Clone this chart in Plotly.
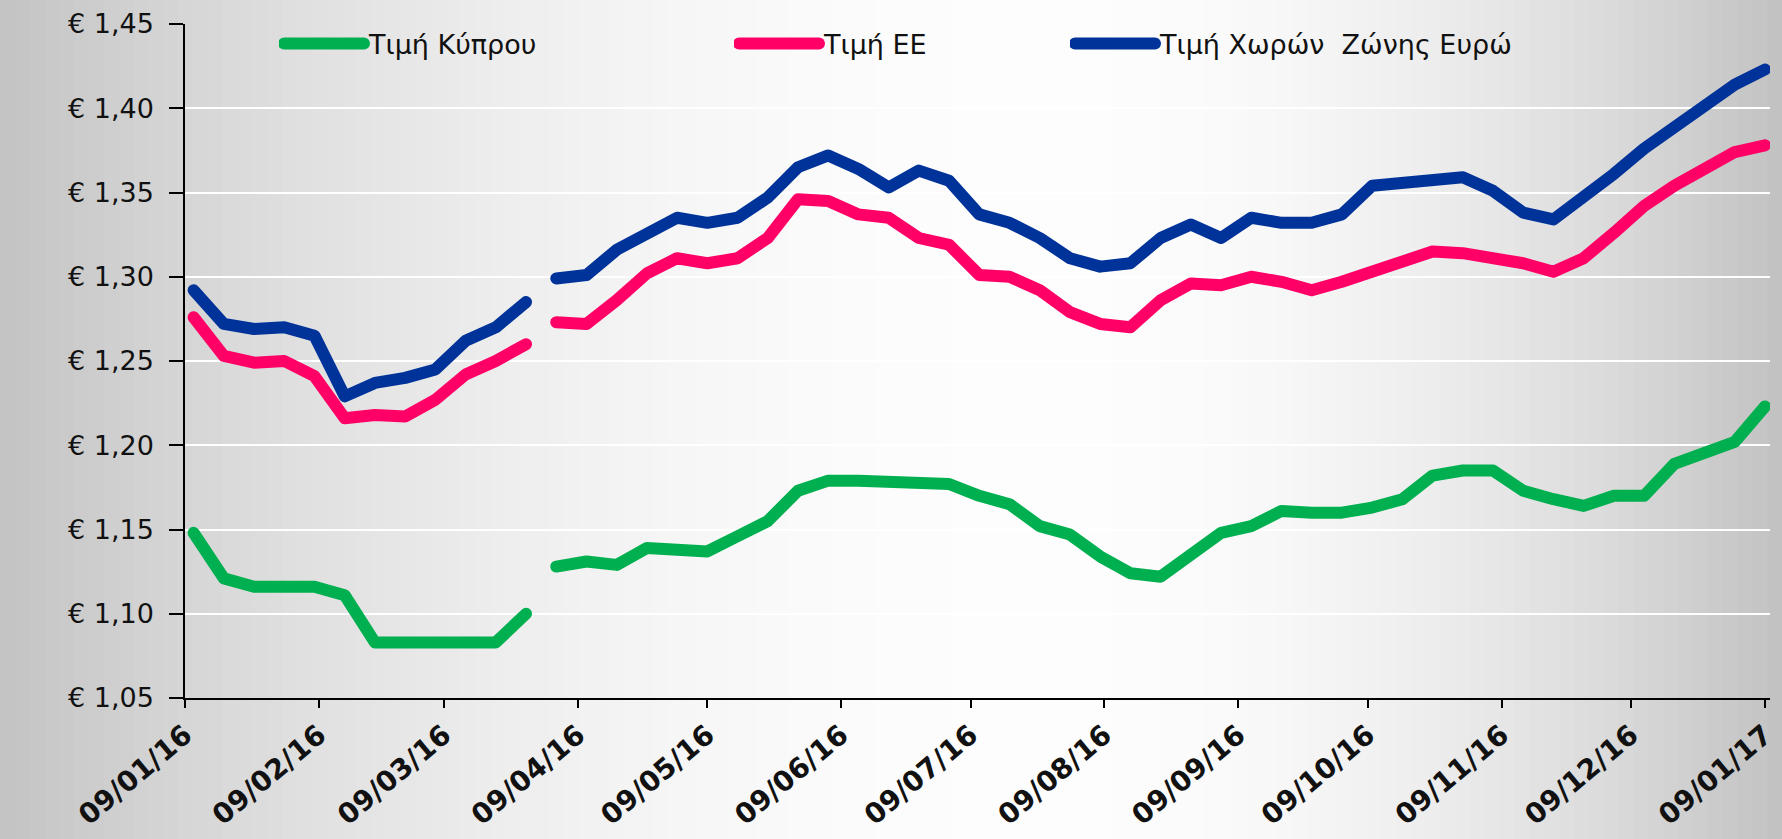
import pandas as pd
import plotly.graph_objects as go

# ---------------- data ----------------
dates = pd.date_range("2016-01-11", periods=53, freq="7D").strftime("%Y-%m-%d").tolist()

cyprus = [1.148, 1.121, 1.116, 1.116, 1.116, 1.111, 1.083, 1.083, 1.083, 1.083, 1.083, 1.100,
          1.128, 1.131, 1.129, 1.139, 1.138, 1.137, 1.146, 1.155, 1.173, 1.179, 1.179, 1.178, 1.177, 1.177,
          1.170, 1.165, 1.152, 1.147, 1.134, 1.124, 1.122, 1.136, 1.148, 1.152, 1.161, 1.160, 1.160, 1.163,
          1.168, 1.182, 1.185, 1.185, 1.173, 1.168, 1.164, 1.170, 1.170, 1.189, 1.196, 1.202, 1.223]

eu = [1.276, 1.253, 1.249, 1.250, 1.241, 1.216, 1.218, 1.217, 1.227, 1.242, 1.250, 1.260,
      1.273, 1.272, 1.286, 1.302, 1.311, 1.308, 1.311, 1.323, 1.346, 1.345, 1.337, 1.335, 1.323, 1.319,
      1.301, 1.300, 1.292, 1.279, 1.272, 1.270, 1.286, 1.296, 1.295, 1.300, 1.297, 1.292, 1.297, 1.303,
      1.309, 1.315, 1.314, 1.311, 1.308, 1.303, 1.311, 1.326, 1.342, 1.354, 1.364, 1.374, 1.378]

eurozone = [1.292, 1.272, 1.269, 1.270, 1.265, 1.229, 1.237, 1.240, 1.245, 1.262, 1.270, 1.285,
            1.299, 1.301, 1.316, 1.325, 1.335, 1.332, 1.335, 1.347, 1.365, 1.372, 1.364, 1.353, 1.363, 1.357,
            1.337, 1.332, 1.323, 1.311, 1.306, 1.308, 1.323, 1.331, 1.323, 1.335, 1.332, 1.332, 1.337, 1.354,
            1.356, 1.358, 1.359, 1.351, 1.338, 1.334, 1.347, 1.361, 1.376, 1.388, 1.402, 1.414, 1.423]

series_names = ["Τιμή Κύπρου", "Τιμή ΕΕ", "Τιμή Χωρών  Ζώνης Ευρώ"]
split_index = 12  # the two source ranges of every series are drawn as separate pieces

y_tick_values = [1.05, 1.10, 1.15, 1.20, 1.25, 1.30, 1.35, 1.40, 1.45]
y_tick_labels = ["€ 1,05", "€ 1,10", "€ 1,15", "€ 1,20", "€ 1,25", "€ 1,30", "€ 1,35", "€ 1,40", "€ 1,45"]
x_tick_values = ["2016-01-09", "2016-02-09", "2016-03-09", "2016-04-09", "2016-05-09", "2016-06-09",
                 "2016-07-09", "2016-08-09", "2016-09-09", "2016-10-09", "2016-11-09", "2016-12-09",
                 "2017-01-09"]
x_tick_labels = ["09/01/16", "09/02/16", "09/03/16", "09/04/16", "09/05/16", "09/06/16", "09/07/16",
                 "09/08/16", "09/09/16", "09/10/16", "09/11/16", "09/12/16", "09/01/17"]

# ---------------- styling ----------------
W, H = 1782, 839
L_M, R_M, T_M, B_M = 185, 12, 24, 141
colors = ["#00b050", "#ff0066", "#003399"]
legends = ["legend", "legend2", "legend3"]
legend_x = [279, 734, 1070]
LW = 12

fig = go.Figure()
for vals, name, col, lg in zip([cyprus, eu, eurozone], series_names, colors, legends):
    fig.add_trace(go.Scatter(x=dates[:split_index], y=vals[:split_index], mode="lines", name=name,
                             line=dict(color=col, width=LW), legend=lg, showlegend=True))
    fig.add_trace(go.Scatter(x=dates[split_index:], y=vals[split_index:], mode="lines", name=name,
                             line=dict(color=col, width=LW), legend=lg, showlegend=False))

# background horizontal gradient (grey edges, white centre)
pw = W - L_M - R_M
ph = H - T_M - B_M
shapes = []
n = 120
for i in range(n):
    X0 = W * i / n
    X1 = W * (i + 1) / n + 1
    xc = (X0 + X1) / 2
    if xc < 1050:
        b = 253 - 58 * ((xc - 1050) / 1050) ** 2
    else:
        b = 253 - 60 * ((xc - 1050) / 732) ** 2
    b = int(round(b))
    shapes.append(dict(type="rect", xref="paper", yref="paper",
                       x0=(X0 - L_M) / pw, x1=(X1 - L_M) / pw,
                       y0=-(B_M + 5) / ph, y1=1 + (T_M + 5) / ph,
                       fillcolor=f"rgb({b},{b},{b})", line=dict(width=0), layer="below"))

legend_common = dict(xref="container", yref="container", xanchor="left", yanchor="middle",
                     bgcolor="rgba(0,0,0,0)", itemwidth=80,
                     font=dict(family="DejaVu Sans", size=27, color="#111111"))

fig.update_layout(
    width=W, height=H,
    margin=dict(l=L_M, r=R_M, t=T_M, b=B_M, autoexpand=False),
    paper_bgcolor="#d0d0d0",
    plot_bgcolor="rgba(0,0,0,0)",
    shapes=shapes,
    legend=dict(x=legend_x[0] / W, y=1 - 44 / H, **legend_common),
    legend2=dict(x=legend_x[1] / W, y=1 - 44 / H, **legend_common),
    legend3=dict(x=legend_x[2] / W, y=1 - 44 / H, **legend_common),
    xaxis=dict(type="date",
               range=["2016-01-09", "2017-01-10 04:00"],
               tickvals=x_tick_values, ticktext=x_tick_labels, tickangle=-40,
               tickfont=dict(family="DejaVu Sans", size=28, color="#111111", weight="bold"),
               showgrid=False, showline=True, linecolor="#000000", linewidth=1.5,
               ticks="outside", ticklen=8, tickwidth=1.5, tickcolor="#000000", zeroline=False),
    yaxis=dict(range=[1.05, 1.45], tickvals=y_tick_values, ticktext=y_tick_labels,
               tickfont=dict(family="DejaVu Sans", size=27, color="#111111"),
               showgrid=True, gridcolor="#ffffff", gridwidth=2,
               showline=True, linecolor="#000000", linewidth=1.5,
               ticks="outside", ticklen=14, tickwidth=1.5, tickcolor="#000000",
               ticklabelstandoff=10, zeroline=False),
    showlegend=True,
)

post = ("document.body.style.margin='0';document.body.style.overflow='hidden';"
        "document.querySelectorAll('.scatterlayer .js-line, .legendlines path').forEach(function(p){"
        "p.style.strokeLinecap='round';p.style.strokeLinejoin='round';});"
        "document.querySelectorAll('.legendlines path').forEach(function(p){p.style.strokeWidth='12px';});")

fig.write_html("out.html", post_script=post, config={"displayModeBar": False})
